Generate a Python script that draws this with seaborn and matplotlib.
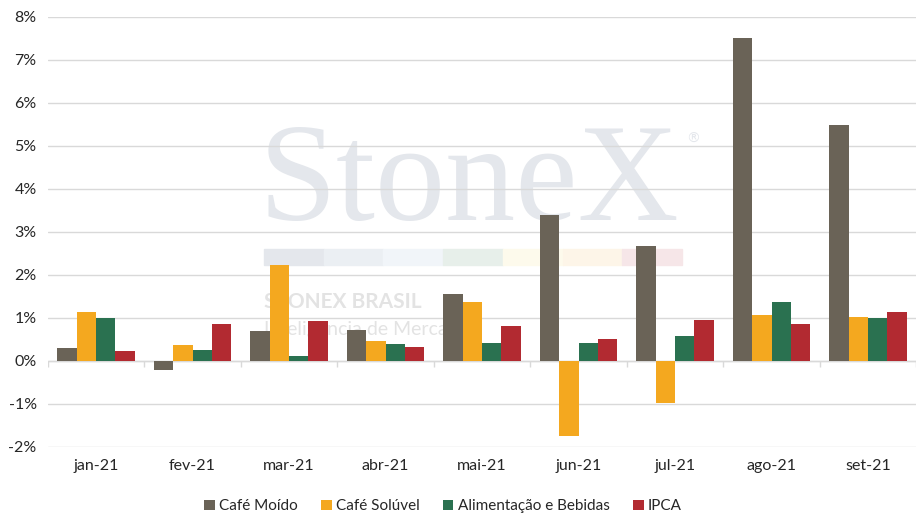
import numpy as np
import pandas as pd
import matplotlib
matplotlib.use('Agg')
import matplotlib.pyplot as plt
import seaborn as sns
from matplotlib.patches import Rectangle

# dados (variacao mensal, %)
months = ['jan-21', 'fev-21', 'mar-21', 'abr-21', 'mai-21', 'jun-21', 'jul-21', 'ago-21', 'set-21']
cafe_moido = [0.30, -0.22, 0.70, 0.72, 1.56, 3.40, 2.68, 7.51, 5.49]
cafe_soluvel = [1.14, 0.37, 2.23, 0.46, 1.37, -1.74, -0.97, 1.07, 1.02]
alim_bebidas = [1.00, 0.26, 0.11, 0.40, 0.42, 0.42, 0.58, 1.37, 1.00]
ipca = [0.24, 0.86, 0.93, 0.31, 0.81, 0.51, 0.96, 0.86, 1.14]
series_names = ['Café Moído', 'Café Solúvel', 'Alimentação e Bebidas', 'IPCA']
colors = ['#6A6357', '#F4A81F', '#2A7150', '#B22A31']
yticks = list(range(-2, 9))

df = pd.DataFrame({
    'mes': months * 4,
    'serie': np.repeat(series_names, len(months)),
    'valor': cafe_moido + cafe_soluvel + alim_bebidas + ipca,
})

sns.set_style('white')
plt.rcParams['font.family'] = ['Lato', 'DejaVu Sans']

fig = plt.figure(figsize=(9.2, 5.3), dpi=100)
ax = fig.add_axes([0.052, 0.157, 0.944, 0.811])
ax.set_zorder(2)
ax.patch.set_alpha(0)

# marca d'agua (atras das barras)
fig.text(0.510, 0.585, 'StoneX', family='Liberation Serif', fontsize=101,
         color='#E4E7EC', ha='center', va='baseline', zorder=-1)
fig.text(0.746, 0.73, '®', family='DejaVu Sans', fontsize=10, color='#E4E7EC', zorder=-1)
band = ['#E4E7EC', '#EBEFF3', '#F1F5F9', '#E7EFEA', '#FDFAEC', '#FDF5E8', '#F6E6E8']
for i, c in enumerate(band):
    fig.patches.append(Rectangle((0.287 + i * 0.0649, 0.500), 0.0649, 0.030,
                                 transform=fig.transFigure, color=c, zorder=-1))
fig.text(0.287, 0.418, 'STONEX BRASIL', fontsize=15, fontweight='bold',
         color='#E3E3E3', zorder=-1)
fig.text(0.287, 0.368, 'Inteligência de Mercado', fontsize=14,
         color='#E3E3E3', zorder=-1)

sns.barplot(data=df, x='mes', y='valor', hue='serie', order=months,
            hue_order=series_names, palette=colors, width=0.8, gap=0,
            saturation=1, linewidth=0, ax=ax, zorder=3)

ax.set_ylim(-2, 8)
ax.set_xlim(-0.5, len(months) - 0.5)
ax.set_yticks(yticks)
ax.set_yticklabels([f'{t}%' for t in yticks])
ax.yaxis.grid(True, color='#D9D9D9', linewidth=1)
ax.set_axisbelow(True)
for s in ax.spines.values():
    s.set_visible(False)

# linha do zero e marcas entre categorias
ax.axhline(0, color='#D9D9D9', linewidth=1, zorder=2)
ax.vlines(np.arange(-0.5, len(months)), -0.14, 0, color='#D9D9D9', linewidth=1, zorder=2)

ax.tick_params(axis='both', length=0, labelsize=11.5, labelcolor='#262626')
ax.tick_params(axis='y', pad=8)
ax.tick_params(axis='x', pad=9)
ax.set_xlabel('')
ax.set_ylabel('')

ax.legend(loc='upper center', bbox_to_anchor=(0.455, -0.09), ncol=4, frameon=False,
          fontsize=11, handlelength=0.7, handleheight=0.7, handletextpad=0.3,
          columnspacing=1.5)

fig.savefig('out.png', dpi=100)
